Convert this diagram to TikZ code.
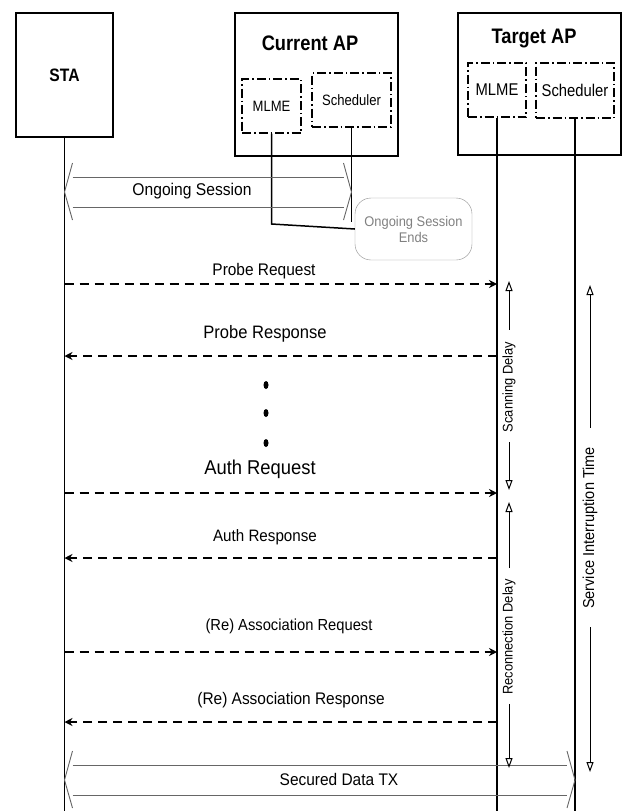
\documentclass[tikz,border=0pt]{standalone}
\usepackage{fontspec}
\setmainfont{Liberation Sans}[FakeStretch=0.92]
\newfontfamily\condfont{Liberation Sans}[FakeStretch=0.87]
\usetikzlibrary{arrows.meta, calc}

\tikzset{
    entity/.style={draw, line width=1.4pt, inner sep=0pt},
    func/.style={draw, line width=1.4pt, inner sep=0pt,
        dash pattern=on 9pt off 3pt on 1.5pt off 3pt},
    life/.style={line width=1.5pt},
    msg/.style={line width=1.3pt, dash pattern=on 9pt off 6pt,
        -{Stealth[length=8pt, width=8pt]}},
    delay/.style={line width=1pt, -{Triangle[open, length=10pt, width=7pt, line width=1pt]}},
    session/.style={draw=black!60, line width=0.9pt},
    title/.style={font=\condfont\bfseries\fontsize{21}{24}\selectfont},
    lbl/.style={font=\fontsize{16.8}{19}\selectfont},
    side/.style={font=\fontsize{14}{16}\selectfont, rotate=90, inner sep=0pt},
}

\begin{document}
\begin{tikzpicture}[x=1pt, y=-1pt]
    \useasboundingbox (0,0) rectangle (622,811);

    % STA
    \node[entity, minimum width=97pt, minimum height=124pt,
        font=\condfont\bfseries\fontsize{18}{20}\selectfont] (sta) at (64.5,75) {STA};

    % Current AP
    \node[entity, minimum width=163pt, minimum height=143pt] (cap) at (316.5,84.5) {};
    \node[title] at (310,43) {Current AP};
    \node[func, minimum width=59pt, minimum height=54pt,
        font=\condfont\fontsize{15}{17}\selectfont] (cmlme) at (271.5,106) {MLME};
    \node[func, minimum width=79pt, minimum height=54pt,
        font=\condfont\fontsize{15}{17}\selectfont] (csched) at (351.5,100) {Scheduler};

    % Target AP
    \node[entity, minimum width=163pt, minimum height=142pt] (tap) at (539.5,84) {};
    \node[title] at (534,39) {Target AP};
    \node[func, minimum width=58pt, minimum height=54pt,
        font=\condfont\fontsize{17}{19}\selectfont] (tmlme) at (497,90) {MLME};
    \node[func, minimum width=78pt, minimum height=55pt,
        font=\condfont\fontsize{17}{19}\selectfont] (tsched) at (575,90.5) {Scheduler};

    % lifelines
    \coordinate (bot) at (0,811);
    \draw[life] (sta.south) -- (sta.south |- bot);
    \draw[life] (tmlme.south) -- (tmlme.south |- bot);
    \draw[life] (tsched.south) -- (tsched.south |- bot);

    % end of the ongoing session
    \node[draw=black!45, rounded corners=16pt, minimum width=117pt, minimum height=62pt,
        align=center, text=black!50, font=\fontsize{14}{16}\selectfont] (ends) at (413.5,229)
        {Ongoing Session\\Ends};
    \draw[life] (cmlme.south) -- (cmlme.south |- 0,224) -- (ends.west);
    \draw[life] (csched.south) -- (csched.south |- 0,222);

    % hollow double arrows
    \coordinate (o1) at (sta.south |- 0,192);
    \coordinate (o2) at (csched.south |- 0,192);
    \coordinate (s1) at (sta.south |- 0,780);
    \coordinate (s2) at (tsched.south |- 0,780);
    \foreach \a/\b in {o1/o2, s1/s2} {
        \draw[session] ($(\a)+(8,-29)$) -- (\a) -- ($(\a)+(8,28)$);
        \draw[session] ($(\b)+(-8,-29)$) -- (\b) -- ($(\b)+(-8,28)$);
        \draw[session] ($(\a)+(8,-15)$) -- ($(\b)+(-8,-15)$);
        \draw[session] ($(\a)+(8,15)$) -- ($(\b)+(-8,15)$);
    }
    \node[lbl, font=\fontsize{17}{19}\selectfont] at (192,191) {Ongoing Session};
    \node[lbl] at (339,779) {Secured Data TX};

    % messages
    \draw[msg] (sta.south |- 0,284) -- (tmlme.south |- 0,284);
    \node[lbl] at (264,271) {Probe Request};
    \draw[msg] (tmlme.south |- 0,356) -- (sta.south |- 0,356);
    \node[lbl, font=\fontsize{18}{20}\selectfont] at (265,334) {Probe Response};
    \foreach \y in {385,413,443}
        \fill (266,\y) ellipse [x radius=2.5pt, y radius=4pt];
    \draw[msg] (sta.south |- 0,493) -- (tmlme.south |- 0,493);
    \node[lbl, font=\fontsize{20}{22}\selectfont] at (260,469) {Auth Request};
    \draw[msg] (tmlme.south |- 0,558) -- (sta.south |- 0,558);
    \node[lbl, font=\fontsize{16.5}{19}\selectfont] at (265,537) {Auth Response};
    \draw[msg] (sta.south |- 0,652) -- (tmlme.south |- 0,652);
    \node[lbl, font=\fontsize{16}{18}\selectfont] at (289,626) {(Re) Association Request};
    \draw[msg] (tmlme.south |- 0,722) -- (sta.south |- 0,722);
    \node[lbl] at (291,700) {(Re) Association Response};

    % delays
    \node[side] (scan) at (509,387) {Scanning Delay};
    \draw[delay] ([yshift=12pt]scan.east) -- (scan.east |- 0,281);
    \draw[delay] ([yshift=-10pt]scan.west) -- (scan.west |- 0,490);
    \node[side] (recon) at (509,637) {Reconnection Delay};
    \draw[delay] ([yshift=11pt]recon.east) -- (recon.east |- 0,502);
    \draw[delay] ([yshift=-9pt]recon.west) -- (recon.west |- 0,768);
    \node[side, font=\fontsize{15.8}{18}\selectfont] (sit) at (590,528) {Service Interruption Time};
    \draw[delay] ([yshift=19pt]sit.east) -- (sit.east |- 0,285);
    \draw[delay] ([yshift=-18pt]sit.west) -- (sit.west |- 0,772);
\end{tikzpicture}
\end{document}
